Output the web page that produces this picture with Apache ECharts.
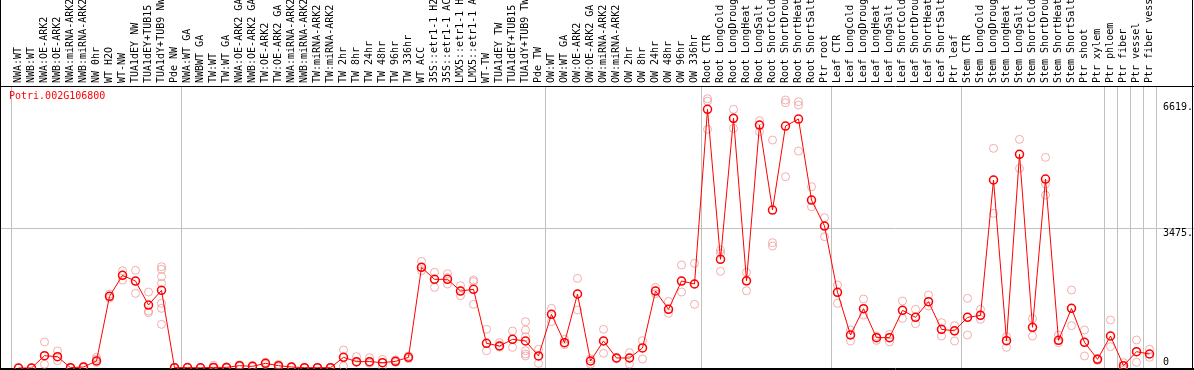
<!DOCTYPE html>
<html><head><meta charset="utf-8">
<script src="https://cdn.jsdelivr.net/npm/echarts@6/dist/echarts.min.js"></script>
<style>html,body{margin:0;padding:0;background:#fff;}#chart{width:1194px;height:370px;}</style>
</head><body><div id="chart"></div>
<script>
const chartTitle = 'Potri.002G106800';

const categories = [
  "NWA:WT","NWB:WT","NWA:OE-ARK2","NWB:OE-ARK2","NWA:miRNA-ARK2","NWB:miRNA-ARK2","NW 0hr","WT H2O","WT-NW","TUA1dEY NW","TUA1dEY+TUB15 NW","TUA1dY+TUB9 NW","Pde NW",
  "NWA:WT GA","NWBWT GA","TW:WT","TW:WT GA","NWA:OE-ARK2 GA","NWB:OE-ARK2 GA","TW:OE-ARK2","TW:OE-ARK2 GA","NWA:miRNA-ARK2 GA","NWB:miRNA-ARK2 GA","TW:miRNA-ARK2","TW:miRNA-ARK2 GA","TW 2hr","TW 8hr","TW 24hr","TW 48hr","TW 96hr","TW 336hr","WT ACC","35S::etr1-1 H2O","35S::etr1-1 ACC","LMX5::etr1-1 H2O","LMX5::etr1-1 ACC","WT-TW","TUA1dEY TW","TUA1dEY+TUB15 TW","TUA1dY+TUB9 TW","Pde TW",
  "OW:WT","OW:WT GA","OW:OE-ARK2","OW:OE-ARK2 GA","OW:miRNA-ARK2","OW:miRNA-ARK2 GA","OW 2hr","OW 8hr","OW 24hr","OW 48hr","OW 96hr","OW 336hr",
  "Root CTR","Root LongCold","Root LongDrought","Root LongHeat","Root LongSalt","Root ShortCold","Root ShortDrought","Root ShortHeat","Root ShortSalt","Ptr root",
  "Leaf CTR","Leaf LongCold","Leaf LongDrought","Leaf LongHeat","Leaf LongSalt","Leaf ShortCold","Leaf ShortDrought","Leaf ShortHeat","Leaf ShortSalt","Ptr leaf",
  "Stem CTR","Stem LongCold","Stem LongDrought","Stem LongHeat","Stem LongSalt","Stem ShortCold","Stem ShortDrought","Stem ShortHeat","Stem ShortSalt","Ptr shoot","Ptr xylem",
  "Ptr phloem","Ptr fiber","Ptr vessel","Ptr fiber vessel"
];

const meanValues = [
  0,0,306,282,8,25,174,1783,2305,2164,1567,1932,8,
  10,5,15,15,58,41,116,58,25,8,8,8,265,158,158,133,166,265,2504,2206,2206,1915,1957,614,547,713,672,299,
  1335,630,1841,174,672,249,249,498,1915,1459,2164,2090,
  6435,2704,6211,2170,6045,3930,6020,6194,4179,3532,
  1883,821,1476,755,755,1434,1260,1650,962,925,
  1260,1310,4677,680,5316,1012,4701,688,1484,638,216,
  796,58,406,348
];

const replicates = [
  [0,0,0],[0,0,0],[647,300,92],[423,282,182],[0,8,15],[10,25,40],[265,216,141],[1840,1783,1740],[2421,2305,2189],[2430,2164,1857],[1890,1418,1376],[2521,2455,2272,2106,1609,1484,1086],[0,8,15],
  [5,10,15],[0,5,10],[66,15,0],[30,15,0],[80,58,40],[60,41,25],[140,116,90],[90,58,30],[40,25,10],[15,8,0],[15,8,0],[15,8,0],[448,265,50],[282,158,140],[257,158,120],[215,133,33],[200,166,140],[300,265,230],[2653,2504,2420],[2380,2206,2007],[2346,2250,2090],[2048,1915,1799],[2189,2147,1584],[962,614,431],[630,560,520],[920,713,514],[1152,945,779,431,348,299],[465,299,116],
  [1484,1335,1152],[713,630,580],[2230,1841,1443],[230,174,100],[962,672,365],[260,249,230],[381,249,100],[680,498,224],[2007,1915,1850],[1658,1459,1360],[2562,2164,1890],[2604,2090,1584],
  [6700,6640,5938],[2935,2853,2405],[6435,6200,5962],[2380,2156,1923],[6152,6045,5878],[5671,3117,3035],[6667,6599,4759],[6625,6542,5398],[4510,4179,4012],[3739,3532,3266],
  [2065,1883,1609],[945,821,672],[1716,1476,1318],[790,755,688],[837,755,647],[1667,1434,1235],[1459,1260,1102],[1816,1650,1542],[1128,962,796],[1053,920,672],
  [1733,1260,821],[1459,1310,1210],[5465,4677,3848],[779,680,514],[5688,5316,4967],[1235,1012,796],[5240,4577,4303],[821,688,630],[1940,1484,1053],[945,638,299],[240,216,190],
  [1194,796,531],[133,58,0],[697,406,141],[465,348,265]
];

const yTickLabels = [0, 3475, 6619];
const yGridValues = [3475];
const groupBoundaries = [-0.55, 12.5, 40.5, 52.5, 62.5, 72.5, 83.5, 84.5, 85.5, 86.5, 87.5];
const yMax = 7016;

const FONT = "'DejaVu Sans Mono', monospace";
const W = 1194, FIRST_PX = 18.5, STEP_PX = 13;
const xMin = -FIRST_PX / STEP_PX;
const xMax = xMin + W / STEP_PX;

const meanData = meanValues.map((v, i) => [i, v]);
const repData = [];
replicates.forEach((arr, i) => arr.forEach(v => repData.push([i, v])));

const chart = echarts.init(document.getElementById('chart'), null, {renderer: 'canvas'});
chart.setOption({
  animation: false,
  backgroundColor: '#fff',
  title: {
    text: chartTitle, left: 9, top: 91, padding: 0,
    textStyle: {color: '#ff0000', fontSize: 10, fontFamily: FONT, fontWeight: 'normal'}
  },
  grid: {left: 0, right: 0, top: 86, bottom: 2, containLabel: false, outerBoundsMode: 'none'},
  xAxis: {
    type: 'value', position: 'top', min: xMin, max: xMax,
    axisLine: {show: true, lineStyle: {color: '#000', width: 1}},
    axisTick: {show: true, customValues: groupBoundaries, length: 86, inside: false, lineStyle: {color: '#c0c0c0', width: 1}},
    splitLine: {show: true, lineStyle: {color: '#c0c0c0', width: 1}},
    axisLabel: {
      customValues: categories.map((c, i) => i),
      formatter: v => categories[Math.round(v)] || '',
      rotate: 90, margin: 3, color: '#000', fontSize: 10, fontFamily: FONT
    }
  },
  yAxis: {
    type: 'value', position: 'right', min: 0, max: yMax,
    axisLine: {show: false},
    axisTick: {show: false, customValues: yGridValues},
    splitLine: {show: true, lineStyle: {color: '#c0c0c0', width: 1}},
    axisLabel: {
      customValues: yTickLabels, inside: true, align: 'left', margin: 31,
      color: '#000', fontSize: 10, fontFamily: FONT,
      formatter: v => v === 0 ? '{z|0}' : '{t|' + v + '.}',
      rich: {
        z: {fontSize: 10, fontFamily: FONT, color: '#000', lineHeight: 12, padding: [0, 0, 12, 0]},
        t: {fontSize: 10, fontFamily: FONT, color: '#000', lineHeight: 12, padding: [10, 0, 0, 0]}
      }
    }
  },
  series: [
    {
      type: 'scatter', data: repData, symbol: 'circle', symbolSize: 8, z: 2,
      itemStyle: {color: 'transparent', borderColor: '#ee9a9a', borderWidth: 1},
      silent: true
    },
    {
      type: 'line', data: meanData, symbol: 'circle', symbolSize: 8, z: 3,
      showAllSymbol: true,
      lineStyle: {color: '#ff0000', width: 1},
      itemStyle: {color: 'transparent', borderColor: '#ff0000', borderWidth: 1.5},
      silent: true
    }
  ],
  graphic: [
    {type: 'line', silent: true, z: 100, shape: {x1: 0, y1: 86.5, x2: 1194, y2: 86.5}, style: {stroke: '#000', lineWidth: 1}},
    {type: 'line', silent: true, z: 100, shape: {x1: 0.5, y1: 0, x2: 0.5, y2: 370}, style: {stroke: '#000', lineWidth: 1}},
    {type: 'line', silent: true, z: 100, shape: {x1: 1192.5, y1: 0, x2: 1192.5, y2: 370}, style: {stroke: '#000', lineWidth: 1}},
    {type: 'line', silent: true, z: 100, shape: {x1: 0, y1: 369.5, x2: 1194, y2: 369.5}, style: {stroke: '#000', lineWidth: 1}}
  ]
});
</script></body></html>
